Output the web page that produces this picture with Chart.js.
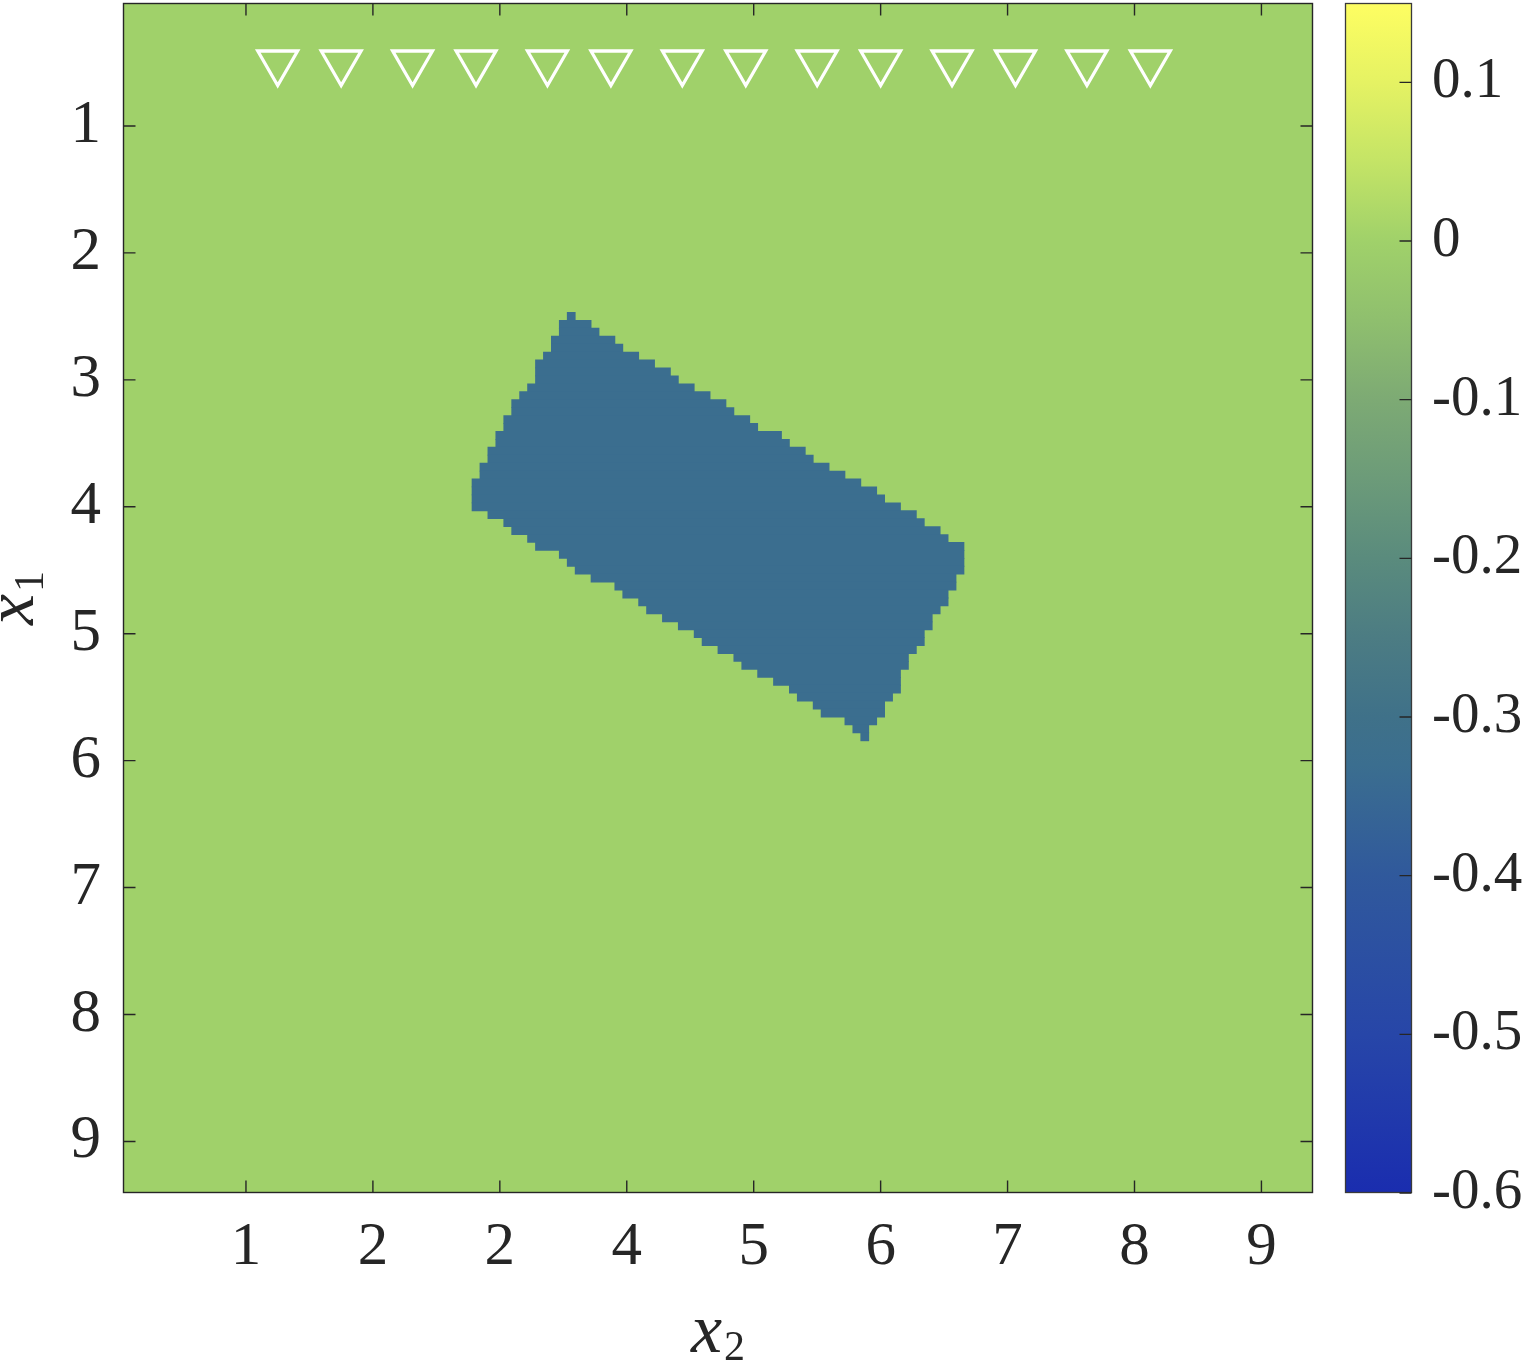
<!DOCTYPE html>
<html>
<head>
<meta charset="utf-8">
<script src="https://cdn.jsdelivr.net/npm/chart.js@4.4.0/dist/chart.umd.min.js"></script>
<style>
html,body{margin:0;padding:0;background:#ffffff;}
#wrap{width:1524px;height:1363px;}
</style>
</head>
<body>
<div id="wrap"><canvas id="c" width="1524" height="1363"></canvas></div>
<script>
// ---------- data ----------
// axis limits (image extent)
const axisMin = 0.03125;
const axisMax = 9.40625;

// rows of the negative region: cell centre on x1 and x2 extent of the row
const rowX1 = [2.5, 2.5625, 2.625, 2.6875, 2.75, 2.8125, 2.875, 2.9375, 3, 3.0625,
  3.125, 3.1875, 3.25, 3.3125, 3.375, 3.4375, 3.5, 3.5625, 3.625, 3.6875,
  3.75, 3.8125, 3.875, 3.9375, 4, 4.0625, 4.125, 4.1875, 4.25, 4.3125,
  4.375, 4.4375, 4.5, 4.5625, 4.625, 4.6875, 4.75, 4.8125, 4.875, 4.9375,
  5, 5.0625, 5.125, 5.1875, 5.25, 5.3125, 5.375, 5.4375, 5.5, 5.5625,
  5.625, 5.6875, 5.75, 5.8125];
const rowX2Start = [3.53125, 3.46875, 3.46875, 3.40625, 3.40625, 3.34375, 3.28125, 3.28125, 3.28125, 3.21875,
  3.15625, 3.09375, 3.09375, 3.03125, 3.03125, 2.96875, 2.96875, 2.90625, 2.90625, 2.84375,
  2.84375, 2.78125, 2.78125, 2.78125, 2.78125, 2.90625, 3.03125, 3.09375, 3.21875, 3.28125,
  3.46875, 3.53125, 3.59375, 3.71875, 3.90625, 3.96875, 4.09375, 4.15625, 4.28125, 4.40625,
  4.53125, 4.59375, 4.71875, 4.84375, 4.90625, 5.03125, 5.15625, 5.28125, 5.34375, 5.46875,
  5.53125, 5.71875, 5.78125, 5.84375];
const rowX2End = [3.59375, 3.71875, 3.78125, 3.90625, 3.96875, 4.09375, 4.21875, 4.34375, 4.40625, 4.53125,
  4.65625, 4.78125, 4.84375, 4.96875, 5.03125, 5.21875, 5.28125, 5.40625, 5.46875, 5.59375,
  5.71875, 5.84375, 5.96875, 6.03125, 6.15625, 6.28125, 6.34375, 6.46875, 6.53125, 6.65625,
  6.65625, 6.65625, 6.65625, 6.59375, 6.59375, 6.53125, 6.53125, 6.46875, 6.40625, 6.40625,
  6.34375, 6.34375, 6.28125, 6.21875, 6.21875, 6.15625, 6.15625, 6.15625, 6.09375, 6.03125,
  6.03125, 5.96875, 5.90625, 5.90625];
const regionValue = -0.33;
const backgroundValue = 0;

// triangle markers
const markerX2 = [1.25, 1.75, 2.3125, 2.8125, 3.375, 3.875, 4.4375, 4.9375, 5.5, 6.0, 6.5625, 7.0625, 7.625, 8.125];
const markerX1 = [0.5, 0.5, 0.5, 0.5, 0.5, 0.5, 0.5, 0.5, 0.5, 0.5, 0.5, 0.5, 0.5, 0.5];

// ticks
const xTickValues = [1, 2, 3, 4, 5, 6, 7, 8, 9];
const xTickLabels = ['1', '2', '2', '4', '5', '6', '7', '8', '9'];
const yTickValues = [1, 2, 3, 4, 5, 6, 7, 8, 9];
const yTickLabels = ['1', '2', '3', '4', '5', '6', '7', '8', '9'];
const cbMin = -0.6;
const cbMax = 0.15;
const cbTickValues = [0.1, 0, -0.1, -0.2, -0.3, -0.4, -0.5, -0.6];
const cbTickLabels = ['0.1', '0', '-0.1', '-0.2', '-0.3', '-0.4', '-0.5', '-0.6'];

// colormap stops
const cmapValues = [0.15, 0.1, 0.05, 0.0, -0.05, -0.1, -0.15, -0.2, -0.25, -0.3, -0.33, -0.4, -0.5, -0.6];
const cmapColors = ['#fefe62', '#e5f263', '#c4e466', '#a0d16a', '#8fbf6e', '#7daa74', '#6c9b79', '#5a8b7d',
  '#4c7c83', '#3f7189', '#3b6e8f', '#30599c', '#2746a8', '#1a2daf'];

// ---------- helpers ----------
function hexToRgb(h) {
  return [parseInt(h.slice(1, 3), 16), parseInt(h.slice(3, 5), 16), parseInt(h.slice(5, 7), 16)];
}
function cmap(v) {
  if (v >= cmapValues[0]) return cmapColors[0];
  for (let i = 1; i < cmapValues.length; i++) {
    if (v >= cmapValues[i]) {
      const t = (cmapValues[i - 1] - v) / (cmapValues[i - 1] - cmapValues[i]);
      const a = hexToRgb(cmapColors[i - 1]), b = hexToRgb(cmapColors[i]);
      const c = a.map((x, k) => Math.round(x + (b[k] - x) * t));
      return 'rgb(' + c.join(',') + ')';
    }
  }
  return cmapColors[cmapColors.length - 1];
}

const FONT = '"Liberation Serif", "Times New Roman", serif';
const INK = '#262626';

const regionData = rowX1.map((y, i) => ({ y: y, x: [rowX2Start[i], rowX2End[i]] }));
const markerData = markerX2.map((x, i) => ({ x: x, y: markerX1[i] }));

function drawSubLabel(ctx, main, sub, x, y, rot, subDrop) {
  ctx.save();
  ctx.translate(x, y);
  ctx.rotate(rot);
  const mainFont = 'italic 70px ' + FONT;
  const subFont = '42px ' + FONT;
  ctx.font = mainFont;
  const w1 = ctx.measureText(main).width;
  ctx.font = subFont;
  const w2 = ctx.measureText(sub).width;
  const total = w1 + 2 + w2;
  ctx.fillStyle = INK;
  ctx.textAlign = 'left';
  ctx.textBaseline = 'alphabetic';
  ctx.font = mainFont;
  ctx.fillText(main, -total / 2, 0);
  ctx.font = subFont;
  ctx.fillText(sub, -total / 2 + w1 + 2, subDrop);
  ctx.restore();
}

const heatPlugin = {
  id: 'heat',
  beforeDatasetsDraw(chart) {
    const { ctx, chartArea: a } = chart;
    ctx.save();
    ctx.fillStyle = cmap(backgroundValue);
    ctx.fillRect(a.left, a.top, a.right - a.left, a.bottom - a.top);
    ctx.restore();
  },
  afterDatasetsDraw(chart) {
    const { ctx, chartArea: a, scales } = chart;
    const sx = scales.x, sy = scales.y, sc = scales.cb;
    ctx.save();
    // frame
    ctx.strokeStyle = INK;
    ctx.lineWidth = 1.4;
    ctx.strokeRect(a.left + 0.5, a.top + 0.5, a.right - a.left - 1, a.bottom - a.top - 1);
    // inward ticks on all sides
    const tl = 12.5;
    ctx.beginPath();
    xTickValues.forEach(v => {
      const p = sx.getPixelForValue(v);
      ctx.moveTo(p, a.bottom); ctx.lineTo(p, a.bottom - tl);
      ctx.moveTo(p, a.top); ctx.lineTo(p, a.top + tl);
    });
    yTickValues.forEach(v => {
      const p = sy.getPixelForValue(v);
      ctx.moveTo(a.left, p); ctx.lineTo(a.left + tl, p);
      ctx.moveTo(a.right, p); ctx.lineTo(a.right - tl, p);
    });
    ctx.stroke();

    // colorbar
    const cbL = a.right + 32.5, cbR = a.right + 98.5;
    const top = sc.getPixelForValue(cbMax), bot = sc.getPixelForValue(cbMin);
    const g = ctx.createLinearGradient(0, top, 0, bot);
    cmapValues.forEach((v, i) => {
      g.addColorStop(Math.min(1, Math.max(0, (cbMax - v) / (cbMax - cbMin))), cmapColors[i]);
    });
    ctx.fillStyle = g;
    ctx.fillRect(cbL, top, cbR - cbL, bot - top);
    ctx.strokeStyle = '#3a3a3a';
    ctx.lineWidth = 1.3;
    ctx.strokeRect(cbL, top + 0.5, cbR - cbL, bot - top - 1);
    ctx.beginPath();
    cbTickValues.forEach(v => {
      const p = sc.getPixelForValue(v);
      ctx.moveTo(cbR, p); ctx.lineTo(cbR - 12, p);
    });
    ctx.strokeStyle = INK;
    ctx.stroke();
    ctx.restore();

    // axis titles
    drawSubLabel(ctx, 'x', '2', (a.left + a.right) / 2, 1352, 0, 8);
    drawSubLabel(ctx, 'x', '1', 33, (a.top + a.bottom) / 2, -Math.PI / 2, 10);
  }
};

const tickFont = { family: FONT, size: 61 };
const cbFont = { family: FONT, size: 57 };

new Chart(document.getElementById('c'), {
  type: 'bar',
  data: {
    datasets: [
      {
        type: 'bar',
        label: 'region',
        indexAxis: 'y',
        xAxisID: 'x',
        yAxisID: 'y',
        data: regionData,
        backgroundColor: cmap(regionValue),
        borderWidth: 0,
        barPercentage: 1,
        categoryPercentage: 1,
        inflateAmount: 0.4,
        order: 2
      },
      {
        type: 'scatter',
        label: 'markers',
        xAxisID: 'x',
        yAxisID: 'y',
        data: markerData,
        pointStyle: 'triangle',
        rotation: 180,
        pointRadius: 23,
        pointHoverRadius: 23,
        borderColor: '#ffffff',
        backgroundColor: 'rgba(0,0,0,0)',
        borderWidth: 3.3,
        clip: false,
        order: 1
      }
    ]
  },
  options: {
    responsive: false,
    maintainAspectRatio: false,
    animation: false,
    events: [],
    layout: { autoPadding: false, padding: { top: 3, left: 0, right: 0, bottom: 0 } },
    plugins: { legend: { display: false }, tooltip: { enabled: false } },
    scales: {
      x: {
        type: 'linear', position: 'bottom', min: axisMin, max: axisMax, offset: false,
        grid: { display: false, drawTicks: false, offset: false }, border: { display: false },
        afterBuildTicks: s => { s.ticks = xTickValues.map(v => ({ value: v })); },
        afterFit: s => { s.height = 170; },
        ticks: {
          autoSkip: false, maxRotation: 0, minRotation: 0, padding: 18,
          font: tickFont, color: INK,
          callback: (v, i) => xTickLabels[i]
        }
      },
      y: {
        type: 'linear', position: 'left', reverse: true, min: axisMin, max: axisMax, offset: false,
        grid: { display: false, drawTicks: false, offset: false }, border: { display: false },
        afterBuildTicks: s => { s.ticks = yTickValues.map(v => ({ value: v })); },
        afterFit: s => { s.width = 123; s.paddingTop = 0; s.paddingBottom = 0; },
        ticks: {
          autoSkip: false, padding: 22,
          font: tickFont, color: INK,
          callback: (v, i) => yTickLabels[i]
        }
      },
      cb: {
        type: 'linear', axis: 'y', position: 'right', min: cbMin, max: cbMax, offset: false,
        grid: { display: false, drawTicks: false }, border: { display: false },
        afterBuildTicks: s => { s.ticks = cbTickValues.map(v => ({ value: v })); },
        afterFit: s => { s.width = 211; s.paddingTop = 0; s.paddingBottom = 0; },
        ticks: {
          autoSkip: false, padding: 119,
          font: cbFont, color: INK,
          callback: (v, i) => cbTickLabels[i]
        }
      }
    }
  },
  plugins: [heatPlugin]
});
</script>
</body>
</html>
